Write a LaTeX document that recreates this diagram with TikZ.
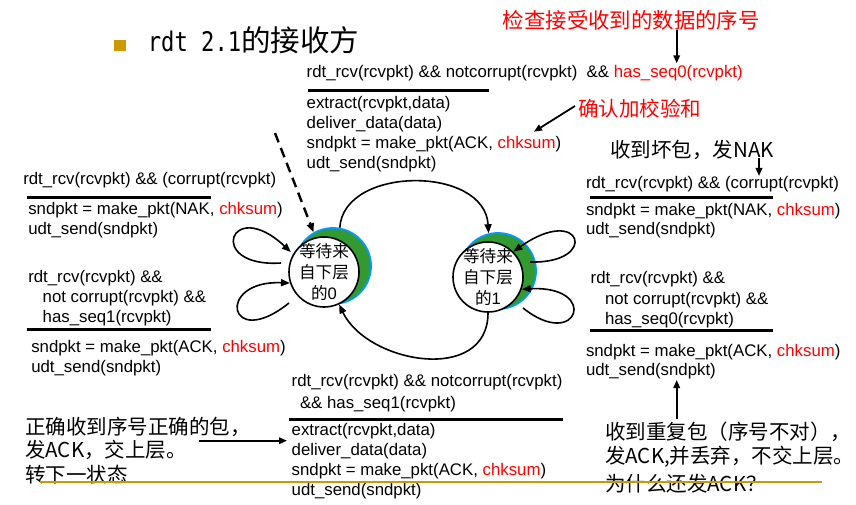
\documentclass[tikz,border=0pt]{standalone}
\usepackage{fontspec}
\setmainfont{Liberation Sans}
\newfontfamily\cjk{Noto Sans CJK SC}
\newfontfamily\titlemono[FakeStretch=0.82]{DejaVu Sans Mono}
\usetikzlibrary{arrows.meta}
\definecolor{hlred}{RGB}{255,0,0}
\definecolor{gold}{RGB}{204,153,0}
\definecolor{stategreen}{RGB}{51,153,51}
\definecolor{stateblue}{RGB}{0,153,255}
\newcommand{\hl}[1]{\textcolor{hlred}{#1}}

\begin{document}
\begin{tikzpicture}[x=1pt,y=-1pt,
  fsm/.style={font=\fontsize{16.8}{20}\selectfont, anchor=base west, inner sep=0pt, outer sep=0pt},
  note/.style={font=\cjk\fontsize{20.5}{24}\selectfont, anchor=west, inner sep=0pt},
  guard/.style={line width=3pt},
  arc/.style={line width=1.6pt, -{Triangle[length=9pt,width=7pt]}},
  pointer/.style={line width=1.8pt, -{Triangle[length=8pt,width=6.5pt]}},
  shade/.style={circle, minimum size=76pt, inner sep=0pt, fill=stategreen, draw=stateblue, line width=1.8pt},
  state/.style={circle, minimum size=70pt, inner sep=0pt, fill=white, draw=black, line width=1.6pt},
  statetext/.style={align=center, font=\cjk\fontsize{16.6}{21}\selectfont, inner sep=0pt}
]
\useasboundingbox (0,0) rectangle (856,505);

% heading
\fill[gold] (114.3,40) rectangle (125.7,51);
\node[anchor=base west, inner sep=0pt] (title) at (147.7,51.7)
  {\titlemono\fontsize{27}{30}\selectfont rdt 2.1\cjk\fontsize{29.5}{30}\selectfont 的接收方};

% states
\node[shade] (sh0) at (333,266) {};
\node[state] (s0) at (324,272) {};
\node[statetext] (s0t) at (s0) {等待来\\自下层\\的{\rmfamily 0}};
\node[shade] (sh1) at (498,271) {};
\node[state] (s1) at (488,277) {};
\node[statetext] (s1t) at (s1) {等待来\\自下层\\的{\rmfamily 1}};

% transitions between the states
\draw[arc] (sh0.80) .. controls +(4,-62) and +(-4,-68) .. (sh1.104);
\draw[arc] (s1.-90) .. controls +(0,72) and +(28,59) .. (s0.-65);

% self loops
\coordinate (lu) at (281,263);
\coordinate (ll) at (289,303);
\coordinate (ru) at (530,262);
\coordinate (rl) at (523,308);
\draw[arc, shorten >=3pt] (lu) .. controls (205,268) and (230,195) .. (s0.150);
\draw[arc] (ll) .. controls (228,352) and (215,280) .. (s0.198);
\draw[arc] (ru) .. controls (600,264) and (582,203) .. (s1.45);
\draw[arc] (rl) .. controls (578,352) and (600,285) .. (s1.-20);

% initial state marker
\coordinate (init) at (275,133);
\draw[line width=2.4pt, dash pattern=on 10pt off 6pt, -{Triangle[length=9pt,width=7pt]}] (init) -- (sh0.120);

% top transition: state 0 -> state 1
\node[fsm] (tc1) at (306.7,77.3) {rdt\_rcv(rcvpkt) \&\& notcorrupt(rcvpkt)\ \ \&\& \hl{has\_seq0(rcvpkt)}};
\draw[guard] (308,90.7) -- (489,90.7);
\node[fsm] (tc2) at (306.7,108.3) {extract(rcvpkt,data)};
\node[fsm] (tc3) at (306.7,128.3) {deliver\_data(data)};
\node[fsm] (tc4) at (306.7,148.3) {sndpkt = make\_pkt(ACK, \hl{chksum})};
\node[fsm] (tc5) at (306.7,168.3) {udt\_send(sndpkt)};

% left loops of state 0
\node[fsm] (l1) at (23.3,185) {rdt\_rcv(rcvpkt) \&\& (corrupt(rcvpkt)};
\draw[guard] (26.7,197.3) -- (210.7,197.3);
\node[fsm] (l2) at (28.3,214.5) {sndpkt = make\_pkt(NAK, \hl{chksum})};
\node[fsm] (l3) at (28.3,234.5) {udt\_send(sndpkt)};
\node[fsm] (l4) at (28.3,282) {rdt\_rcv(rcvpkt) \&\&};
\node[fsm] (l5) at (42.7,302.5) {not corrupt(rcvpkt) \&\&};
\node[fsm] (l6) at (42.7,322.7) {has\_seq1(rcvpkt)};
\draw[guard] (26.7,329.3) -- (210.7,329.3);
\node[fsm] (l7) at (31.3,352.7) {sndpkt = make\_pkt(ACK, \hl{chksum})};
\node[fsm] (l8) at (31.3,372) {udt\_send(sndpkt)};

% right loops of state 1
\node[fsm] (r1) at (586,188.3) {rdt\_rcv(rcvpkt) \&\& (corrupt(rcvpkt)};
\draw[guard] (590,197.3) -- (773,197.3);
\node[fsm] (r2) at (586,215) {sndpkt = make\_pkt(NAK, \hl{chksum})};
\node[fsm] (r3) at (586,234.5) {udt\_send(sndpkt)};
\node[fsm] (r4) at (590.7,283.3) {rdt\_rcv(rcvpkt) \&\&};
\node[fsm] (r5) at (605,304) {not corrupt(rcvpkt) \&\&};
\node[fsm] (r6) at (605,324.3) {has\_seq0(rcvpkt)};
\draw[guard] (590,330) -- (773,330);
\node[fsm] (r7) at (586,356) {sndpkt = make\_pkt(ACK, \hl{chksum})};
\node[fsm] (r8) at (586,375.5) {udt\_send(sndpkt)};

% bottom transition: state 1 -> state 0
\node[fsm] (bc1) at (291.7,386) {rdt\_rcv(rcvpkt) \&\& notcorrupt(rcvpkt)};
\node[fsm] (bc2) at (300,408.3) {\&\& has\_seq1(rcvpkt)};
\draw[guard] (289,419.3) -- (562.7,419.3);
\node[fsm] (bc3) at (291.7,435) {extract(rcvpkt,data)};
\node[fsm] (bc4) at (291.7,455) {deliver\_data(data)};
\node[fsm] (bc5) at (291.7,475) {sndpkt = make\_pkt(ACK, \hl{chksum})};
\node[fsm] (bc6) at (291.7,495) {udt\_send(sndpkt)};

% remarks
\node[note, text=hlred, font=\cjk\fontsize{21.4}{24}\selectfont] (n1) at (502.7,20.7) {检查接受收到的数据的序号};
\coordinate (n1a) at (676.7,30);
\coordinate (n1b) at (676.7,63.3);
\draw[pointer] (n1a) -- (n1b);

\node[note, text=hlred] (n2) at (578,108.3) {确认加校验和};
\coordinate (n2a) at (575,106);
\coordinate (n2b) at (534,131.7);
\draw[pointer] (n2a) -- (n2b);

\node[note] (n3) at (610,150) {收到坏包，发NAK};
\coordinate (n3a) at (759,158);
\coordinate (n3b) at (759,176);
\draw[pointer] (n3a) -- (n3b);

\node[note] (n4) at (25,426.7) {正确收到序号正确的包，};
\node[note] (n5) at (25,449.5) {发ACK，交上层。};
\node[note] (n6) at (25,475) {转下一状态};
\coordinate (n4a) at (199,440.7);
\coordinate (n4b) at (287,440.7);
\draw[pointer] (n4a) -- (n4b);

\node[note] (n7) at (605,431.7) {收到重复包（序号不对），};
\node[note] (n8) at (605,456.7) {发ACK,并丢弃，不交上层。};
\node[note] (n9) at (605,483.3) {为什么还发ACK？};
\coordinate (n7a) at (676.7,419.3);
\coordinate (n7b) at (676.7,380);
\draw[pointer] (n7a) -- (n7b);

% footer rule
\draw[gold, line width=2pt] (40,481.7) -- (822,481.7);
\end{tikzpicture}
\end{document}
